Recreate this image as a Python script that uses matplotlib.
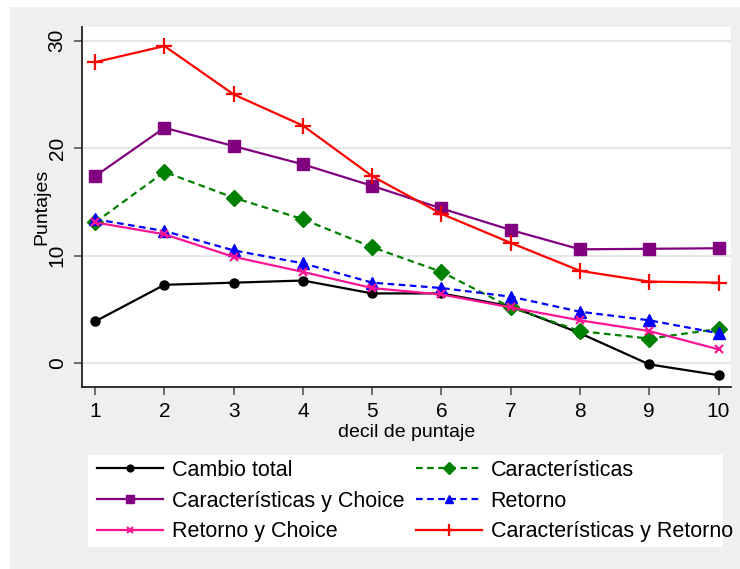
import matplotlib
matplotlib.use("Agg")
import matplotlib.pyplot as plt
from matplotlib.patches import Rectangle

plt.rcParams['font.family'] = ['Liberation Sans', 'DejaVu Sans']

deciles = [1, 2, 3, 4, 5, 6, 7, 8, 9, 10]
cambio_total = [3.9, 7.3, 7.5, 7.7, 6.5, 6.5, 5.3, 2.8, -0.1, -1.1]
caracteristicas = [13.1, 17.8, 15.4, 13.4, 10.8, 8.5, 5.2, 3.0, 2.3, 3.2]
caract_choice = [17.4, 21.9, 20.2, 18.5, 16.5, 14.4, 12.4, 10.6, 10.65, 10.7]
retorno = [13.4, 12.3, 10.5, 9.3, 7.5, 7.0, 6.2, 4.8, 4.0, 2.8]
retorno_choice = [13.1, 12.0, 9.9, 8.5, 7.0, 6.4, 5.2, 4.0, 3.0, 1.3]
caract_retorno = [28.0, 29.5, 25.0, 22.1, 17.4, 13.9, 11.2, 8.6, 7.6, 7.5]

yticks = [0, 10, 20, 30]
xlabel = "decil de puntaje"
ylabel = "Puntajes"

W, H = 740, 569
fig = plt.figure(figsize=(W / 100, H / 100), dpi=100, facecolor='white')

# gray graph region
fig.patches.append(Rectangle((10 / W, 0), 1 - 10 / W, 1 - 7 / H,
                             transform=fig.transFigure, facecolor='#efefef',
                             edgecolor='none', zorder=-10))
# legend white box
fig.patches.append(Rectangle((88 / W, 1 - 547 / H), (723 - 88) / W, (547 - 455) / H,
                             transform=fig.transFigure, facecolor='white',
                             edgecolor='none', zorder=-5))

ax = fig.add_axes([82 / W, 1 - 387 / H, (731 - 82) / W, (387 - 27) / H])
ax.set_facecolor('white')

lw = 1.6
ax.plot(deciles, cambio_total, color='black', lw=lw, marker='o', ms=6.5,
        label='Cambio total', zorder=5)
ax.plot(deciles, caracteristicas, color='#008000', lw=lw, ls=(0, (3, 2)),
        marker='D', ms=8.5, label='Características', zorder=5)
ax.plot(deciles, caract_choice, color='#800080', lw=lw, marker='s', ms=8.5,
        label='Características y Choice', zorder=5)
ax.plot(deciles, retorno, color='#0000ff', lw=lw, ls=(0, (3, 2)), marker='^',
        ms=8.5, label='Retorno', zorder=5)
ax.plot(deciles, retorno_choice, color='#ff1493', lw=lw, marker='x', ms=6,
        mew=1.6, label='Retorno y Choice', zorder=5)
ax.plot(deciles, caract_retorno, color='#ff0000', lw=lw, marker='+', ms=11,
        mew=1.6, label='Características y Retorno', zorder=5)

ax.set_xlim(0.81, 10.18)
ax.set_ylim(-2.2, 31.27)
ax.set_xticks(deciles)
ax.set_yticks(yticks)
ax.set_yticklabels([str(v) for v in yticks], rotation=90, va='center')
ax.grid(axis='y', color='#e6e6e6', lw=1.6, zorder=0)
ax.set_axisbelow(True)

for s in ['top', 'right']:
    ax.spines[s].set_visible(False)
for s in ['left', 'bottom']:
    ax.spines[s].set_color('#222222')
    ax.spines[s].set_linewidth(1.3)
ax.tick_params(axis='both', direction='out', length=6, width=1.2,
               color='#555555', labelsize=15, pad=5)
ax.set_xlabel(xlabel, fontsize=14, labelpad=2)
ax.set_ylabel(ylabel, fontsize=14, labelpad=-2)

handles, labels = ax.get_legend_handles_labels()
order = [0, 2, 4, 1, 3, 5]
leg = fig.legend([handles[i] for i in order], [labels[i] for i in order],
                 ncol=2, frameon=False, fontsize=15.5, markerscale=0.75,
                 loc='upper left', bbox_to_anchor=(97 / W, 1 - 460 / H),
                 handlelength=3.07, handletextpad=0.42, columnspacing=0.51,
                 labelspacing=0.45, borderaxespad=0, borderpad=0)

fig.savefig('out.png', dpi=100, facecolor=fig.get_facecolor())
